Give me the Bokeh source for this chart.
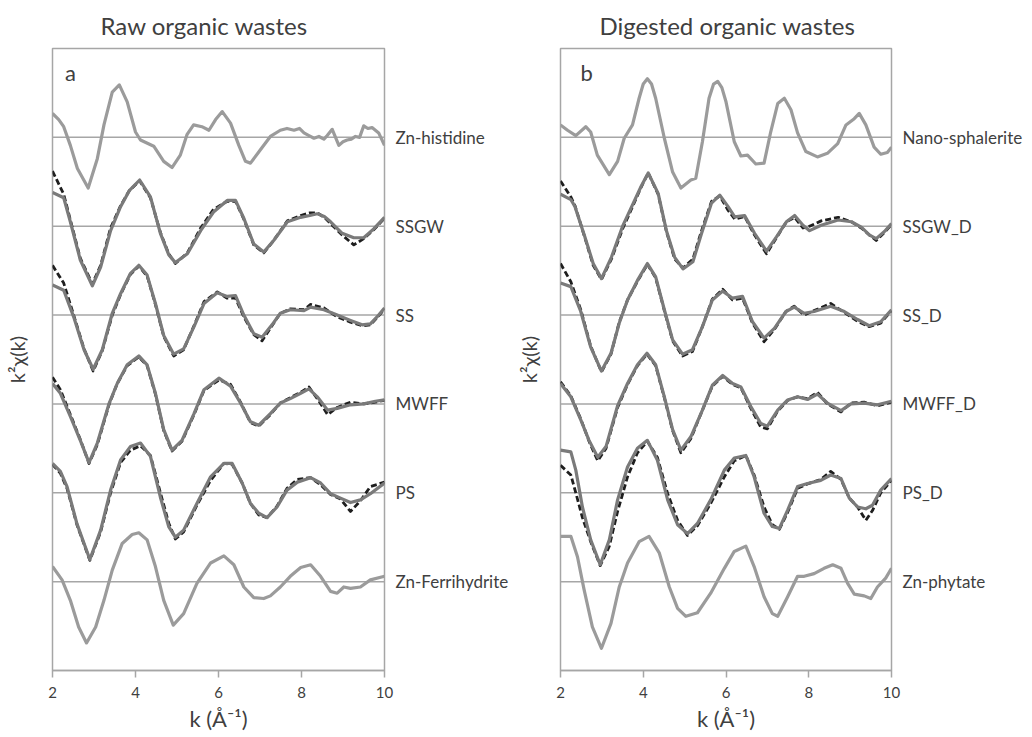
from bokeh.plotting import figure
from bokeh.layouts import row
from bokeh.models import Range1d, Span, Label, FixedTicker, LinearAxis
from bokeh.embed import file_html
from bokeh.resources import INLINE

FONT = "Lato"
TXT = "#404040"
FRAME = "#a6a6a6"
REF_C = "#9b9b9b"
SMP_C = "#7a7a7a"
FIT_C = "#1e1e1e"

TICKS = [2, 4, 6, 8, 10]

# ---------------- Panel a : raw organic wastes ----------------
HIS_K = [2.0, 2.15, 2.27, 2.43, 2.6, 2.86, 3.08, 3.24, 3.44, 3.61, 3.8, 4.0, 4.12, 4.44, 4.68, 4.88, 5.08,
         5.24, 5.4, 5.6, 5.77, 5.93, 6.09, 6.29, 6.49, 6.65, 6.77, 7.01, 7.25, 7.49, 7.65, 7.82, 7.95, 8.06,
         8.18, 8.3, 8.42, 8.54, 8.62, 8.74, 8.82, 8.9, 9.0, 9.1, 9.2, 9.3, 9.4, 9.5, 9.6, 9.7, 9.86, 10.0]
HIS_Y = [0.27, 0.2, 0.12, -0.09, -0.35, -0.57, -0.24, 0.14, 0.51, 0.59, 0.40, 0.06, -0.03, -0.10, -0.27, -0.34,
         -0.20, 0.03, 0.14, 0.12, 0.08, 0.20, 0.29, 0.16, -0.09, -0.27, -0.29, -0.14, 0.01, 0.08, 0.10, 0.08,
         0.10, 0.05, 0.02, -0.01, 0.01, -0.02, 0.02, 0.09, 0.0, -0.09, -0.05, -0.03, -0.02, 0.01, 0.0, 0.13,
         0.10, 0.11, 0.05, -0.09]

SSGW_K = [2.0, 2.27, 2.43, 2.67, 2.96, 3.16, 3.40, 3.64, 3.85, 4.10, 4.36, 4.60, 4.80, 4.96, 5.25, 5.57, 5.88,
          6.21, 6.41, 6.61, 6.85, 7.09, 7.33, 7.66, 7.98, 8.2, 8.38, 8.55, 8.70, 8.98, 9.26, 9.50, 9.74, 10.0]
SSGW_Y = [0.38, 0.32, 0.05, -0.38, -0.67, -0.46, -0.05, 0.22, 0.40, 0.52, 0.33, -0.08, -0.32, -0.41, -0.31,
          -0.05, 0.16, 0.29, 0.29, 0.09, -0.20, -0.29, -0.16, 0.05, 0.10, 0.12, 0.14, 0.11, 0.05, -0.08, -0.13,
          -0.13, -0.03, 0.10]
SSGW_FIT = [0.62, 0.36, 0.07, -0.36, -0.65, -0.44, -0.02, 0.23, 0.40, 0.51, 0.32, -0.07, -0.31, -0.42, -0.30,
            -0.02, 0.19, 0.28, 0.28, 0.08, -0.21, -0.30, -0.16, 0.06, 0.12, 0.15, 0.15, 0.10, 0.03, -0.10, -0.21,
            -0.14, -0.04, 0.09]

SS_K = [2.0, 2.27, 2.51, 2.76, 2.98, 3.2, 3.44, 3.64, 3.88, 4.08, 4.28, 4.48, 4.68, 4.92, 5.16, 5.41, 5.65,
        5.97, 6.21, 6.41, 6.61, 6.85, 7.05, 7.29, 7.49, 7.73, 8.06, 8.22, 8.54, 8.86, 9.18, 9.46, 9.66, 9.86, 10.0]
SS_Y = [0.34, 0.28, -0.02, -0.39, -0.61, -0.39, 0.02, 0.24, 0.47, 0.56, 0.45, 0.13, -0.23, -0.44, -0.38, -0.13,
        0.13, 0.25, 0.21, 0.22, 0.0, -0.21, -0.25, -0.11, 0.02, 0.06, 0.05, 0.09, 0.06, 0.0, -0.06, -0.11, -0.10,
        0.0, 0.08]
SS_FIT = [0.56, 0.36, 0.0, -0.38, -0.63, -0.40, 0.0, 0.23, 0.46, 0.55, 0.44, 0.12, -0.24, -0.46, -0.39, -0.12,
          0.15, 0.26, 0.19, 0.19, -0.02, -0.22, -0.29, -0.12, 0.02, 0.07, 0.06, 0.12, 0.08, -0.02, -0.08, -0.12,
          -0.11, -0.01, 0.07]

MWFF_K = [2.0, 2.19, 2.43, 2.67, 2.88, 3.08, 3.36, 3.56, 3.8, 4.08, 4.28, 4.48, 4.68, 4.88, 5.12, 5.41, 5.65,
          6.01, 6.29, 6.53, 6.77, 6.97, 7.25, 7.49, 7.73, 7.98, 8.18, 8.38, 8.63, 8.86, 9.18, 9.5, 9.78, 10.0]
MWFF_Y = [0.23, 0.12, -0.14, -0.41, -0.66, -0.44, 0.0, 0.23, 0.44, 0.54, 0.44, 0.12, -0.29, -0.52, -0.41, -0.11,
          0.16, 0.29, 0.20, 0.01, -0.20, -0.24, -0.11, 0.01, 0.06, 0.12, 0.17, 0.08, -0.07, -0.05, -0.01, 0.0,
          0.03, 0.045]
MWFF_FIT = [0.30, 0.16, -0.12, -0.40, -0.67, -0.46, -0.01, 0.23, 0.43, 0.53, 0.43, 0.11, -0.30, -0.53, -0.42,
            -0.12, 0.15, 0.27, 0.22, 0.02, -0.21, -0.25, -0.12, 0.01, 0.07, 0.13, 0.19, 0.06, -0.12, -0.04, 0.02,
            0.0, 0.02, 0.04]

PS_K = [2.0, 2.19, 2.35, 2.59, 2.9, 3.16, 3.4, 3.64, 3.88, 4.12, 4.36, 4.6, 4.8, 4.96, 5.16, 5.48, 5.81, 6.13,
        6.33, 6.57, 6.77, 6.97, 7.17, 7.41, 7.65, 7.9, 8.22, 8.46, 8.7, 8.94, 9.18, 9.42, 9.66, 10.0]
PS_Y = [0.33, 0.24, 0.07, -0.35, -0.75, -0.42, 0.03, 0.37, 0.52, 0.56, 0.41, -0.05, -0.38, -0.50, -0.42, -0.12,
        0.18, 0.33, 0.33, 0.11, -0.12, -0.23, -0.28, -0.16, 0.03, 0.12, 0.17, 0.11, -0.01, -0.06, -0.11, -0.08,
        -0.01, 0.11]
PS_FIT = [0.32, 0.22, 0.05, -0.36, -0.76, -0.44, 0.0, 0.34, 0.48, 0.53, 0.42, 0.0, -0.34, -0.52, -0.44, -0.14,
          0.14, 0.33, 0.32, 0.11, -0.12, -0.25, -0.28, -0.15, 0.05, 0.15, 0.17, 0.09, -0.02, -0.07, -0.21, -0.09,
          0.07, 0.12]

FH_K = [2.0, 2.23, 2.43, 2.63, 2.82, 3.04, 3.24, 3.44, 3.68, 3.92, 4.08, 4.28, 4.48, 4.68, 4.91, 5.16, 5.48,
        5.81, 6.13, 6.37, 6.61, 6.85, 7.09, 7.25, 7.49, 7.73, 7.98, 8.22, 8.46, 8.7, 8.86, 9.02, 9.18, 9.42,
        9.66, 10.0]
FH_Y = [0.17, 0.02, -0.21, -0.51, -0.69, -0.51, -0.21, 0.13, 0.43, 0.53, 0.55, 0.47, 0.17, -0.21, -0.49, -0.36,
        -0.02, 0.21, 0.29, 0.19, -0.06, -0.18, -0.19, -0.16, -0.06, 0.06, 0.16, 0.19, 0.06, -0.11, -0.13, -0.06,
        -0.075, -0.06, 0.02, 0.06]

# ---------------- Panel b : digested organic wastes ----------------
NANO_K = [2.0, 2.17, 2.37, 2.61, 2.73, 2.89, 3.18, 3.38, 3.54, 3.74, 3.9, 4.0, 4.1, 4.2, 4.3, 4.51, 4.71, 4.91,
          5.15, 5.27, 5.43, 5.59, 5.7, 5.8, 5.9, 6.0, 6.2, 6.36, 6.52, 6.72, 6.92, 7.08, 7.25, 7.41, 7.57, 7.73,
          7.93, 8.21, 8.45, 8.7, 8.9, 9.1, 9.22, 9.38, 9.58, 9.74, 9.9, 10.0]
NANO_Y = [0.14, 0.08, 0.02, 0.12, 0.06, -0.20, -0.42, -0.27, -0.01, 0.14, 0.44, 0.60, 0.66, 0.60, 0.44, -0.01,
          -0.39, -0.57, -0.48, -0.46, -0.05, 0.44, 0.60, 0.63, 0.56, 0.40, -0.05, -0.21, -0.20, -0.30, -0.29,
          0.06, 0.38, 0.44, 0.31, 0.05, -0.16, -0.22, -0.18, -0.07, 0.14, 0.21, 0.27, 0.14, -0.11, -0.19, -0.17,
          -0.11]

SSGWD_K = [2.0, 2.25, 2.35, 2.59, 2.79, 2.99, 3.23, 3.51, 3.76, 3.95, 4.12, 4.36, 4.56, 4.76, 4.96, 5.2, 5.41,
           5.65, 5.85, 6.05, 6.21, 6.45, 6.69, 6.98, 7.22, 7.46, 7.66, 7.86, 8.02, 8.3, 8.71, 9.03, 9.27, 9.47,
           9.63, 9.83, 10.0]
SSGWD_Y = [0.36, 0.30, 0.22, -0.12, -0.42, -0.59, -0.35, 0.01, 0.26, 0.45, 0.60, 0.37, -0.05, -0.35, -0.48,
           -0.40, -0.08, 0.26, 0.35, 0.22, 0.105, 0.12, -0.08, -0.28, -0.12, 0.05, 0.12, 0.01, -0.05, 0.01, 0.07,
           0.05, -0.01, -0.10, -0.14, -0.06, 0.03]
SSGWD_FIT = [0.51, 0.33, 0.23, -0.13, -0.44, -0.60, -0.37, -0.02, 0.24, 0.44, 0.60, 0.36, -0.06, -0.37, -0.47,
             -0.37, -0.05, 0.28, 0.34, 0.18, 0.08, 0.11, -0.10, -0.31, -0.13, 0.05, 0.10, -0.02, 0.0, 0.06, 0.10,
             0.05, -0.02, -0.10, -0.16, -0.07, 0.02]

SSD_K = [2.0, 2.25, 2.49, 2.73, 2.99, 3.22, 3.42, 3.62, 3.86, 4.1, 4.3, 4.51, 4.71, 4.95, 5.19, 5.43, 5.67,
         5.92, 6.16, 6.4, 6.64, 6.92, 7.17, 7.45, 7.65, 7.89, 8.13, 8.53, 8.86, 9.18, 9.46, 9.74, 10.0]
SSD_Y = [0.36, 0.32, 0.04, -0.36, -0.63, -0.43, -0.09, 0.17, 0.39, 0.58, 0.43, 0.06, -0.28, -0.44, -0.39, -0.13,
         0.17, 0.27, 0.19, 0.21, -0.075, -0.26, -0.15, 0.04, 0.09, 0.02, 0.04, 0.10, 0.04, -0.05, -0.12, -0.075,
         0.06]
SSD_FIT = [0.58, 0.375, 0.06, -0.35, -0.64, -0.44, -0.08, 0.17, 0.38, 0.57, 0.42, 0.05, -0.29, -0.46, -0.41,
           -0.13, 0.18, 0.29, 0.17, 0.19, -0.09, -0.30, -0.16, 0.04, 0.10, 0.0, 0.05, 0.13, 0.03, -0.07, -0.13,
           -0.09, 0.05]

MWFFD_K = [2.0, 2.25, 2.49, 2.69, 2.9, 3.1, 3.38, 3.62, 3.86, 4.09, 4.3, 4.51, 4.71, 4.91, 5.15, 5.43, 5.67,
           5.92, 6.16, 6.36, 6.6, 6.84, 7.0, 7.25, 7.49, 7.73, 7.97, 8.21, 8.45, 8.78, 9.02, 9.34, 9.66, 10.0]
MWFFD_Y = [0.23, 0.08, -0.18, -0.41, -0.60, -0.48, -0.02, 0.23, 0.44, 0.57, 0.44, 0.08, -0.29, -0.52, -0.37,
           -0.07, 0.21, 0.32, 0.23, 0.19, -0.03, -0.22, -0.25, -0.07, 0.045, 0.08, 0.05, 0.11, 0.01, -0.075, 0.0,
           0.01, -0.01, 0.03]
MWFFD_FIT = [0.25, 0.09, -0.17, -0.42, -0.64, -0.50, -0.04, 0.22, 0.43, 0.56, 0.43, 0.07, -0.30, -0.55, -0.39,
             -0.07, 0.20, 0.31, 0.22, 0.18, -0.05, -0.26, -0.28, -0.08, 0.04, 0.08, 0.06, 0.13, 0.0, -0.09, 0.01,
             0.02, -0.02, 0.02]

PSD_K = [2.0, 2.25, 2.37, 2.53, 2.73, 2.96, 3.18, 3.38, 3.62, 3.86, 4.1, 4.34, 4.59, 4.83, 5.07, 5.31, 5.63,
         5.96, 6.2, 6.48, 6.68, 6.92, 7.12, 7.29, 7.49, 7.73, 7.97, 8.29, 8.53, 8.78, 8.98, 9.18, 9.38, 9.54,
         9.74, 10.0]
PSD_Y = [0.48, 0.46, 0.255, -0.16, -0.53, -0.81, -0.53, -0.08, 0.29, 0.50, 0.59, 0.37, -0.08, -0.36, -0.46,
         -0.345, -0.08, 0.255, 0.39, 0.42, 0.18, -0.23, -0.38, -0.40, -0.195, 0.07, 0.105, 0.14, 0.20, 0.16,
         -0.06, -0.16, -0.18, -0.14, 0.03, 0.16]
PSD_FIT = [0.31, 0.20, 0.0, -0.28, -0.55, -0.82, -0.60, -0.21, 0.18, 0.45, 0.58, 0.40, -0.01, -0.31, -0.48,
           -0.37, -0.12, 0.18, 0.36, 0.42, 0.20, -0.16, -0.36, -0.41, -0.22, 0.05, 0.10, 0.15, 0.24, 0.15, -0.06,
           -0.16, -0.31, -0.20, 0.0, 0.14]

PHY_K = [2.0, 2.25, 2.41, 2.57, 2.77, 2.99, 3.22, 3.42, 3.62, 3.9, 4.14, 4.39, 4.63, 4.83, 5.03, 5.31, 5.63,
         5.96, 6.2, 6.48, 6.68, 6.92, 7.12, 7.25, 7.49, 7.73, 7.89, 8.13, 8.37, 8.58, 8.78, 8.94, 9.1, 9.34, 9.5,
         9.66, 9.86, 10.0]
PHY_Y = [0.51, 0.51, 0.28, -0.09, -0.51, -0.75, -0.47, -0.06, 0.21, 0.45, 0.51, 0.32, -0.06, -0.30, -0.39,
         -0.35, -0.13, 0.15, 0.34, 0.40, 0.17, -0.17, -0.36, -0.39, -0.17, 0.06, 0.06, 0.09, 0.15, 0.19, 0.15,
         -0.02, -0.14, -0.16, -0.19, -0.06, 0.04, 0.15]

PANEL_A_NAMES = ["Zn-histidine", "SSGW", "SS", "MWFF", "PS", "Zn-Ferrihydrite"]
PANEL_B_NAMES = ["Nano-sphalerite", "SSGW_D", "SS_D", "MWFF_D", "PS_D", "Zn-phytate"]

PANEL_A = [(HIS_K, HIS_Y, None), (SSGW_K, SSGW_Y, SSGW_FIT), (SS_K, SS_Y, SS_FIT),
           (MWFF_K, MWFF_Y, MWFF_FIT), (PS_K, PS_Y, PS_FIT), (FH_K, FH_Y, None)]
PANEL_B = [(NANO_K, NANO_Y, None), (SSGWD_K, SSGWD_Y, SSGWD_FIT), (SSD_K, SSD_Y, SSD_FIT),
           (MWFFD_K, MWFFD_Y, MWFFD_FIT), (PSD_K, PSD_Y, PSD_FIT), (PHY_K, PHY_Y, None)]


def make_panel(title, letter, names, series, border_left, frame_w, border_right,
               title_offset, ylab_standoff, letter_x):
    p = figure(frame_width=frame_w, frame_height=622, x_range=Range1d(2, 10), y_range=Range1d(-6, 1),
               y_axis_location=None, title=title, toolbar_location=None, output_backend="svg",
               min_border_left=border_left, min_border_right=border_right, min_border_top=48,
               min_border_bottom=40)
    p.grid.visible = False
    p.outline_line_color = FRAME
    p.outline_line_width = 1.5
    p.background_fill_color = "white"
    p.border_fill_color = "white"

    p.title.text_font = FONT
    p.title.text_font_size = "24px"
    p.title.text_font_style = "normal"
    p.title.text_color = TXT
    p.title.align = "left"
    p.title.offset = title_offset
    if "standoff" in p.title.properties():
        p.title.standoff = 17

    ax = p.xaxis[0]
    ax.ticker = FixedTicker(ticks=TICKS)
    ax.axis_line_color = FRAME
    ax.axis_line_width = 1.5
    ax.major_tick_line_color = FRAME
    ax.major_tick_line_width = 1.5
    ax.major_tick_out = 7
    ax.major_tick_in = 0
    ax.minor_tick_line_color = None
    ax.major_label_text_font = FONT
    ax.major_label_text_font_size = "15px"
    ax.major_label_text_color = TXT
    ax.major_label_standoff = 9
    ax.axis_label = "k (Å⁻¹)"
    ax.axis_label_text_font = FONT
    ax.axis_label_text_font_size = "22px"
    ax.axis_label_text_font_style = "normal"
    ax.axis_label_text_color = TXT
    ax.axis_label_standoff = 4

    # y-axis: only its title is shown
    ly = LinearAxis(ticker=FixedTicker(ticks=[]), axis_line_color=None, major_tick_line_color=None,
                    minor_tick_line_color=None, major_tick_out=0, major_tick_in=0,
                    major_label_text_font_size="0px",
                    axis_label="k²χ(k)", axis_label_text_font=FONT, axis_label_text_font_size="20px",
                    axis_label_text_font_style="normal", axis_label_text_color=TXT,
                    axis_label_standoff=ylab_standoff)
    p.add_layout(ly, "left")

    # right axis: one label per spectrum, at its baseline
    offsets = [-i for i in range(len(names))]
    ry = LinearAxis(ticker=FixedTicker(ticks=offsets),
                    major_label_overrides={o: n for o, n in zip(offsets, names)},
                    axis_line_color=None, major_tick_line_color=None, minor_tick_line_color=None,
                    major_tick_out=0, major_tick_in=0,
                    major_label_text_font=FONT, major_label_text_font_size="17px",
                    major_label_text_color=TXT, major_label_standoff=11)
    p.add_layout(ry, "right")

    for off, (ks, ys, fit) in zip(offsets, series):
        p.add_layout(Span(location=off, dimension="width", line_color=FRAME, line_width=1.5, level="underlay"))
        if fit is None:
            p.line(ks, [v + off for v in ys], line_color=REF_C, line_width=3.2, line_join="round")
        else:
            p.line(ks, [v + off for v in fit], line_color=FIT_C, line_width=2.8, line_dash="6 3",
                   line_join="round")
            p.line(ks, [v + off for v in ys], line_color=SMP_C, line_width=3.2, line_join="round")

    p.add_layout(Label(x=letter_x, y=0.73, text=letter, text_font=FONT, text_font_size="22px",
                       text_color=TXT, text_align="center", text_baseline="alphabetic"))
    return p


pa = make_panel("Raw organic wastes", "a", PANEL_A_NAMES, PANEL_A, 52, 332, 129, 48, 24, 2.43)
pb = make_panel("Digested organic wastes", "b", PANEL_B_NAMES, PANEL_B, 46, 331, 126, 39, 20, 2.63)

layout = row(pa, pb)
open("out.html", "w").write(file_html(layout, INLINE))
